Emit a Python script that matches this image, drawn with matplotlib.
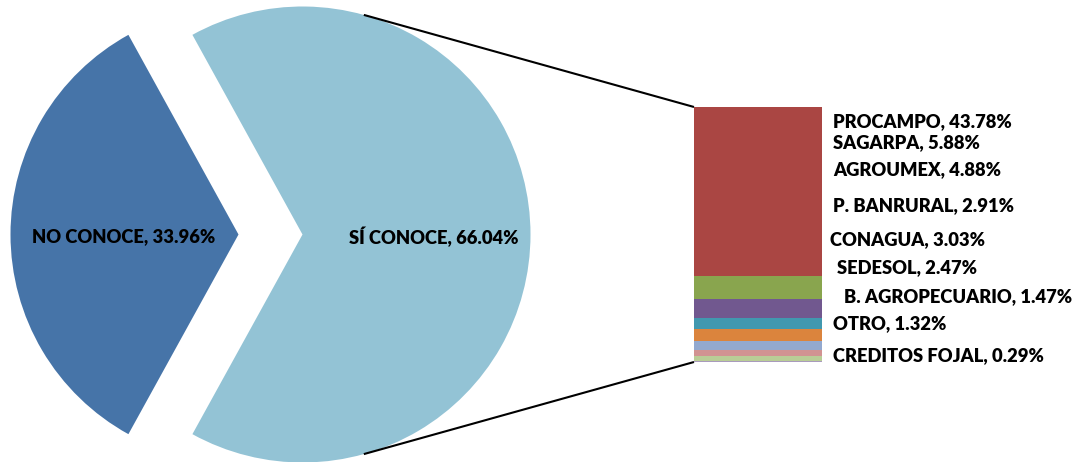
import numpy as np
import matplotlib
matplotlib.use("Agg")
import matplotlib.pyplot as plt

# ---- data ----
pie_labels = ["NO CONOCE", "SÍ CONOCE"]
pie_values = [33.96, 66.04]
pie_colors = ["#4674A8", "#93C3D5"]

bar_labels = ["PROCAMPO", "SAGARPA", "AGROUMEX", "P. BANRURAL", "CONAGUA",
              "SEDESOL", "B. AGROPECUARIO", "OTRO", "CREDITOS FOJAL"]
bar_values = [43.78, 5.88, 4.88, 2.91, 3.03, 2.47, 1.47, 1.32, 0.29]
bar_colors = ["#AA4643", "#89A54E", "#71588F", "#4198AF", "#DB843D",
              "#93A9CF", "#D19392", "#B9CD96", "#A99BBD"]

W, H = 1079, 462
FONT = dict(family=["Lato", "DejaVu Sans"], fontweight="heavy", fontsize=13.25, color="black")

fig = plt.figure(figsize=(W / 100, H / 100), dpi=100)
ax = fig.add_axes([0, 0, 1, 1])

# ---- pie ----
cx, cy, r = 302.5, H - 234.5, 228
span_no = pie_values[0] / sum(pie_values) * 360
start = 180 - span_no / 2
wedges, _ = ax.pie(pie_values, colors=pie_colors, startangle=start, center=(cx, cy),
                   radius=r, explode=[64, 0], frame=True,
                   wedgeprops=dict(linewidth=0))
ax.set_xlim(0, W)
ax.set_ylim(0, H)
ax.set_aspect("equal")
ax.axis("off")

ax.text(123.5, H - 237, f"{pie_labels[0]}, {pie_values[0]:.2f}%", ha="center", va="center", **FONT)
ax.text(434, H - 237, f"{pie_labels[1]}, {pie_values[1]:.2f}%", ha="center", va="center", **FONT)

# ---- bar ----
bx0, bx1, by_top, by_bot = 694, 822, 107, 362
bax = fig.add_axes([bx0 / W, (H - by_bot) / H, (bx1 - bx0) / W, (by_bot - by_top) / H])
total = sum(bar_values)
bottom = 0.0
for v, c in zip(reversed(bar_values), reversed(bar_colors)):
    bax.bar(0, v, bottom=bottom, width=1.0, color=c, linewidth=0)
    bottom += v
bax.set_xlim(-0.5, 0.5)
bax.set_ylim(0, total)
bax.axis("off")

# connector lines
ang = np.deg2rad(74.4)
px = cx + r * np.cos(ang)
ax.plot([px, bx0], [cy + r * np.sin(ang), H - by_top], color="black", lw=1.5, solid_capstyle="butt")
ax.plot([px, bx0], [cy - r * np.sin(ang), H - by_bot], color="black", lw=1.5, solid_capstyle="butt")

# bar labels
lab_x = [833, 833, 833, 833, 829.5, 837, 844, 833, 833]
lab_y = [122, 142.3, 170, 206, 239.3, 268, 297, 323.3, 355.3]
for name, v, x, y in zip(bar_labels, bar_values, lab_x, lab_y):
    ax.text(x, H - y, f"{name}, {v:.2f}%", ha="left", va="center", **FONT)

fig.savefig("out.png", dpi=100)
